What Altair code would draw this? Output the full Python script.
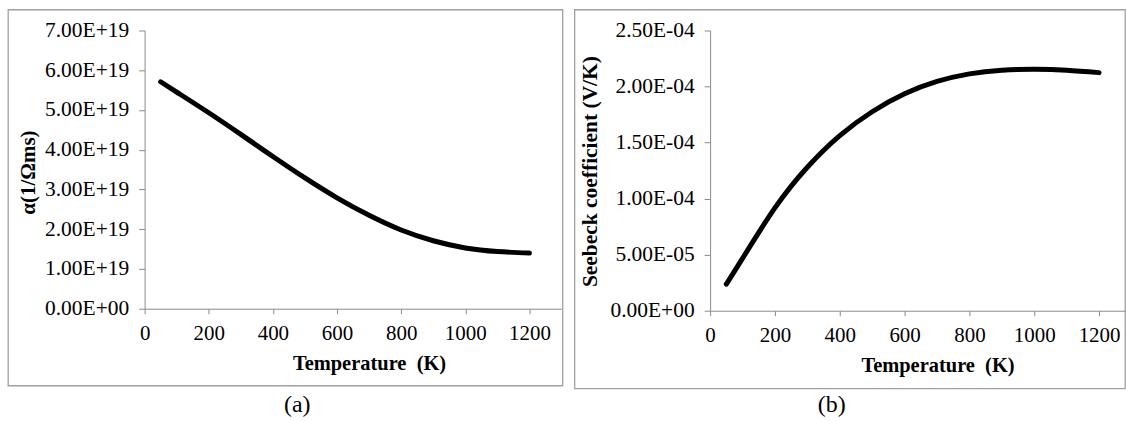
import altair as alt
import pandas as pd

# ---- data ----
temp_a = [50, 100, 200, 300, 400, 500, 600, 700, 800, 900, 1000, 1100, 1200]
alpha_e19 = [5.71, 5.45, 4.93, 4.385, 3.83, 3.29, 2.79, 2.35, 1.98, 1.71, 1.53, 1.44, 1.40]

temp_b = [50, 100, 200, 300, 400, 500, 600, 700, 800, 900, 1000, 1100, 1200]
seebeck_e4 = [0.237, 0.467, 0.917, 1.280, 1.562, 1.775, 1.935, 2.045, 2.113, 2.146, 2.154, 2.146, 2.124]

x_ticks = [0, 200, 400, 600, 800, 1000, 1200]
y_ticks_a = [0, 1e19, 2e19, 3e19, 4e19, 5e19, 6e19, 7e19]
y_ticks_b = [0, 5e-5, 1e-4, 1.5e-4, 2e-4, 2.5e-4]

df_a = pd.DataFrame({"T": temp_a, "v": [a * 1e19 for a in alpha_e19]})
df_b = pd.DataFrame({"T": temp_b, "v": [s * 1e-4 for s in seebeck_e4]})

SERIF = "Liberation Serif"
AXIS_GRAY = "#8a8a8a"

def axis_common():
    return dict(
        domainColor=AXIS_GRAY, tickColor=AXIS_GRAY, grid=False,
        labelFont=SERIF, labelColor="#000000",
        titleFont=SERIF, titleColor="#000000", titleFontWeight="bold",
    )

label_a = "datum.value == 0 ? '0.00E+00' : format(datum.value / 1e19, '.2f') + 'E+19'"
label_b = ("datum.value == 0 ? '0.00E+00' : (datum.value < 0.99e-4 ? "
           "format(datum.value / 1e-5, '.2f') + 'E-05' : format(datum.value / 1e-4, '.2f') + 'E-04')")

line_style = dict(color="#000000", strokeWidth=5, strokeCap="round", interpolate="natural")

# ---- panel (a) ----
W_A, H_A = 556, 377
chart_a = alt.Chart(df_a).mark_line(**line_style).encode(
    x=alt.X("T:Q",
            scale=alt.Scale(domain=[0, 1300], range=[137, 555], nice=False, zero=False),
            axis=alt.Axis(values=x_ticks, format="d", title="Temperature\u00a0\u00a0(K)", offset=-77,
                          tickSize=5, labelFontSize=21, labelPadding=9, labelFlush=False,
                          titleFontSize=20.5, titleX=362, titleY=60.5, titleAlign="center",
                          titleBaseline="alphabetic", **axis_common())),
    y=alt.Y("v:Q",
            scale=alt.Scale(domain=[0, 7e19], range=[300, 21], nice=False),
            axis=alt.Axis(values=y_ticks_a, labelExpr=label_a, title="α(1/Ωms)", offset=-137,
                          tickSize=6, labelFontSize=21.5, labelPadding=10,
                          titleFontSize=21, titleX=-116, titleY=163, titleAngle=-90,
                          titleAlign="center", titleBaseline="middle", **axis_common())),
).properties(
    width=W_A, height=H_A,
    title=alt.TitleParams("(a)", orient="bottom", anchor="middle", frame="group", dx=12,
                          offset=8, font=SERIF, fontSize=24, fontWeight="normal", color="#000000"),
)

# ---- panel (b) ----
W_B, H_B = 552, 380
chart_b = alt.Chart(df_b).mark_line(**line_style).encode(
    x=alt.X("T:Q",
            scale=alt.Scale(domain=[0, 1280], range=[136, 552], nice=False, zero=False),
            axis=alt.Axis(values=x_ticks, format="d", title="Temperature\u00a0\u00a0(K)", offset=-78,
                          tickSize=5, labelFontSize=21, labelPadding=9, labelFlush=False,
                          titleFontSize=20.5, titleX=364, titleY=61, titleAlign="center",
                          titleBaseline="alphabetic", **axis_common())),
    y=alt.Y("v:Q",
            scale=alt.Scale(domain=[0, 2.5e-4], range=[302, 21], nice=False),
            axis=alt.Axis(values=y_ticks_b, labelExpr=label_b, title="Seebeck coefficient (V/K)",
                          offset=-136, tickSize=6, labelFontSize=21.5, labelPadding=10,
                          titleFontSize=21.5, titleX=-120, titleY=162, titleAngle=-90,
                          titleAlign="center", titleBaseline="middle", **axis_common())),
).properties(
    width=W_B, height=H_B,
    title=alt.TitleParams("(b)", orient="bottom", anchor="middle", frame="group", dx=-18,
                          offset=5, font=SERIF, fontSize=24, fontWeight="normal", color="#000000"),
)

chart = alt.hconcat(chart_a, chart_b, spacing=10).properties(
    padding={"left": 7, "top": 8, "right": 0, "bottom": 0},
    background="#ffffff",
).configure_view(stroke="#a0a0a0", strokeWidth=1.3)

chart.save("out.html", embed_options={"renderer": "svg", "actions": False})
